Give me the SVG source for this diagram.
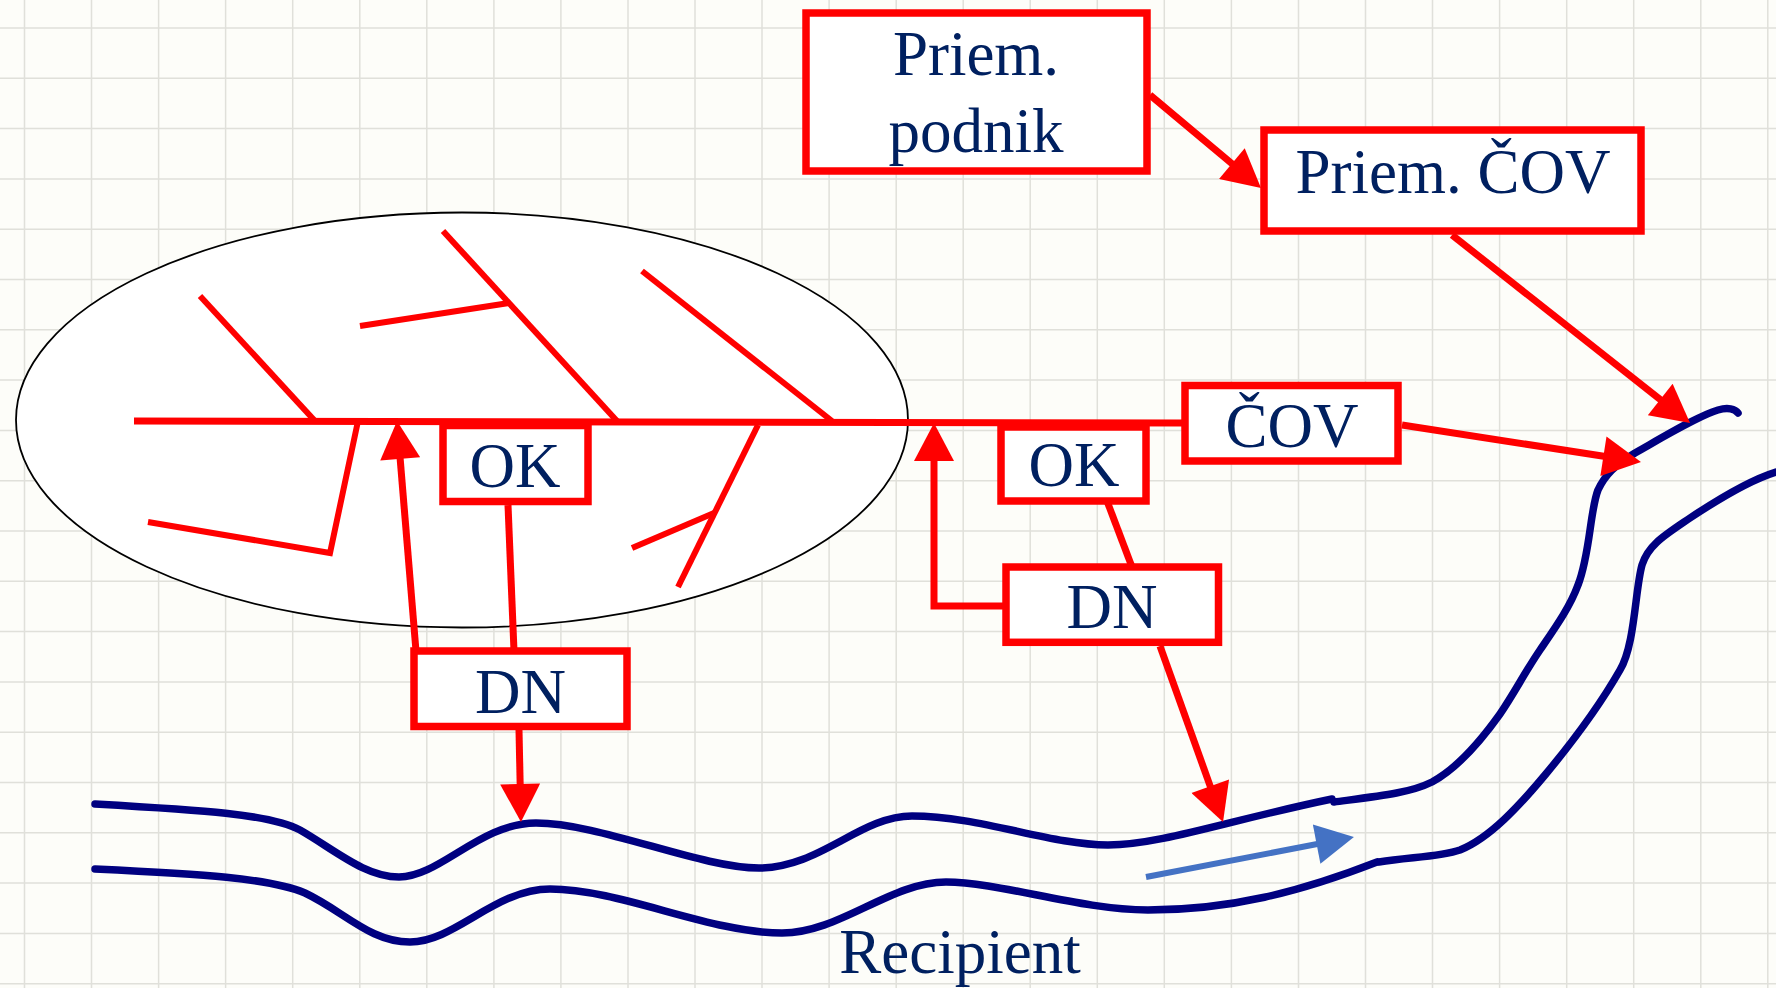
<svg xmlns="http://www.w3.org/2000/svg" width="1776" height="988" viewBox="0 0 1776 988">
<defs>
<style>
.box{fill:#fff;stroke:#ff0000;stroke-width:7.5}
.lbl{font-family:"Liberation Serif","Times New Roman",serif;font-size:63px;fill:#002060;text-anchor:middle}
.red{fill:none;stroke:#ff0000;stroke-width:7}
.bone{fill:none;stroke:#ff0000;stroke-width:6}
.river{fill:none;stroke:#000080;stroke-width:7.5;stroke-linecap:round}
.grid{fill:none;stroke:#e0e0da;stroke-width:1.5}
</style>
<marker id="ah" markerUnits="userSpaceOnUse" markerWidth="40" markerHeight="40" viewBox="0 0 38 40" refX="2" refY="20" orient="auto">
<path d="M0,0 L38,20 L0,40 z" fill="#ff0000"/>
</marker>
<marker id="ahb" markerUnits="userSpaceOnUse" markerWidth="40" markerHeight="40" viewBox="0 0 38 40" refX="2" refY="20" orient="auto">
<path d="M0,0 L38,20 L0,40 z" fill="#4472c4"/>
</marker>
</defs>
<rect width="1776" height="988" fill="#fdfdf9"/>
<g id="grid" class="grid">
<path d="M24.5,0V988M91.5,0V988M158.6,0V988M225.6,0V988M292.7,0V988M359.8,0V988M426.8,0V988M493.9,0V988M560.9,0V988M628,0V988M695,0V988M762,0V988M829.1,0V988M896.2,0V988M963.2,0V988M1030.2,0V988M1097.3,0V988M1164.3,0V988M1231.4,0V988M1298.5,0V988M1365.5,0V988M1432.5,0V988M1499.6,0V988M1566.7,0V988M1633.7,0V988M1700.8,0V988M1767.8,0V988"/>
<path d="M0,28H1776M0,78.3H1776M0,128.6H1776M0,178.9H1776M0,229.2H1776M0,279.5H1776M0,329.8H1776M0,380.1H1776M0,430.4H1776M0,480.7H1776M0,531H1776M0,581.3H1776M0,631.6H1776M0,681.9H1776M0,732.2H1776M0,782.5H1776M0,832.8H1776M0,883.1H1776M0,933.4H1776M0,983.7H1776"/>
</g>
<g id="process">
<ellipse cx="462" cy="420" rx="446" ry="207.5" fill="#fff" stroke="#000" stroke-width="1.8"/>
<line class="bone" x1="200" y1="296" x2="315" y2="421"/>
<line class="bone" x1="443" y1="231" x2="617" y2="421"/>
<line class="bone" x1="360" y1="326" x2="509" y2="303"/>
<line class="bone" x1="642" y1="271" x2="832" y2="421"/>
<polyline class="bone" points="148,522 330,553 358,421"/>
<line class="bone" x1="758" y1="425" x2="678" y2="587"/>
<line class="bone" x1="632" y1="548" x2="714" y2="513"/>
</g>
<g id="recipient">
<path class="river" d="M95,804 C200,810 270,814 300,830 C335,850 365,877 399,877 C440,877 480,823 536,823 C600,823 700,868 759,868 C820,868 860,816 912,816 C980,816 1050,845 1108,845 C1160,845 1230,820 1332,799"/>
<path class="river" d="M1334,802 C1380,796 1410,793 1432,782 C1458,768 1480,742 1500,714 C1515,692 1525,672 1540,650 C1555,628 1570,607 1578,585 C1590,555 1590,510 1598,490 C1605,475 1615,465 1635,453 C1665,436 1700,415 1718,410 C1728,407 1735,409 1738,413"/>
<path class="river" d="M95,869 C200,874 270,878 305,893 C345,912 370,942 410,942 C455,942 495,889 550,889 C620,889 710,933 782,933 C840,933 890,882 946,882 C1000,882 1080,910 1148,910 C1230,910 1300,892 1377,862"/>
<path class="river" d="M1379,862 C1410,857 1440,857 1460,850 C1490,838 1520,805 1545,775 C1570,745 1600,705 1620,670 C1635,645 1635,590 1642,565 C1648,545 1665,535 1690,518 C1720,498 1750,480 1776,472"/>
<text class="lbl" x="960" y="973">Recipient</text>
</g>
<g id="connectors">
<line class="red" x1="134" y1="421" x2="1185" y2="423"/>
<line class="red" x1="1150" y1="95" x2="1233.4" y2="164.9" marker-end="url(#ah)"/>
<line class="red" x1="1452" y1="235" x2="1661.8" y2="400.7" marker-end="url(#ah)"/>
<line class="red" x1="1402" y1="425" x2="1605.4" y2="456.5" marker-end="url(#ah)"/>
<line class="red" x1="1160" y1="646" x2="1210.9" y2="788.1" marker-end="url(#ah)"/>
<line class="red" x1="519" y1="730" x2="520.2" y2="786" marker-end="url(#ah)"/>
<line class="red" x1="416" y1="651" x2="400" y2="456.9" marker-end="url(#ah)"/>
<polyline class="red" points="1006,606 934,606 934,459" marker-end="url(#ah)"/>
<line class="red" x1="508" y1="505" x2="514" y2="651"/>
<line class="red" x1="1107" y1="501" x2="1132" y2="567"/>
<line x1="1146" y1="877" x2="1318.6" y2="843.8" stroke="#4472c4" stroke-width="6" marker-end="url(#ahb)"/>
</g>
<g id="priem-podnik">
<rect class="box" x="806" y="13" width="341" height="158"/>
<text class="lbl" x="976" y="75">Priem.</text>
<text class="lbl" x="976" y="152">podnik</text>
</g>
<g id="priem-cov">
<rect class="box" x="1264" y="130" width="377" height="101"/>
<text class="lbl" x="1453" y="193">Priem. ČOV</text>
</g>
<g id="cov">
<rect class="box" x="1185" y="385.5" width="213" height="75.5"/>
<text class="lbl" x="1292" y="447">ČOV</text>
</g>
<g id="ok1">
<rect class="box" x="443" y="425.5" width="145" height="76"/>
<text class="lbl" x="515" y="487">OK</text>
</g>
<g id="ok2">
<rect class="box" x="1001" y="427" width="145" height="74"/>
<text class="lbl" x="1074" y="486">OK</text>
</g>
<g id="dn1">
<rect class="box" x="414" y="651" width="213" height="75.5"/>
<text class="lbl" x="520.5" y="713">DN</text>
</g>
<g id="dn2">
<rect class="box" x="1006" y="567" width="212.5" height="75.3"/>
<text class="lbl" x="1112" y="628">DN</text>
</g>
</svg>
